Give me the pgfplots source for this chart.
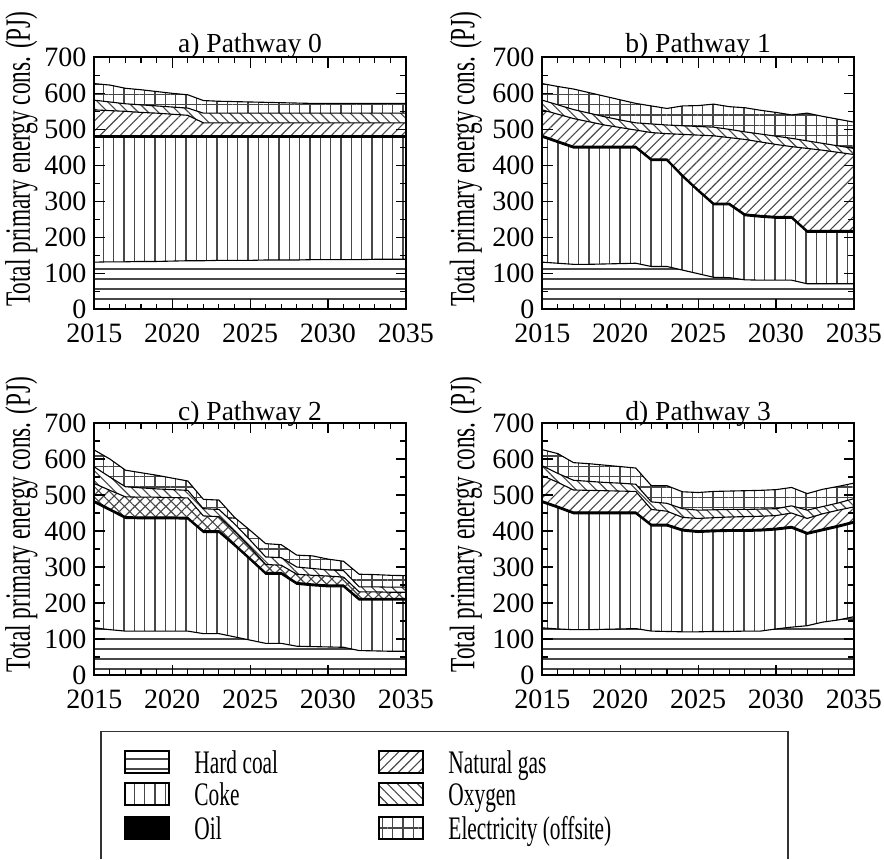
\documentclass[border=0pt]{standalone}
\usepackage{pgfplots}
\pgfplotsset{compat=1.18}
\usepackage{pgfplotstable}
\usetikzlibrary{patterns.meta}
\usepackage{graphicx}
\usepackage{fontspec}
\setmainfont{Liberation Serif}
\colorlet{pc}{black!72}

% year, cumulative tops of: hard coal, coke, oil, natural gas, oxygen, electricity (PJ)
\pgfplotstableread{
year coal coke oil gas oxy elec
2015 131 477 482 554 581 627
2016 132 477 482 552 576 623
2017 132 477 482 550 571 614
2018 133 477 482 547 568 610
2019 133 477 482 545 565 605
2020 134 477 482 542 562 600
2021 135 477 482 539 559 596
2022 135 477 482 518 545 580
2023 136 477 482 518 545 578
2024 136 477 482 518 545 577
2025 136 477 482 518 545 576
2026 137 477 482 518 545 575
2027 137 477 482 518 545 574
2028 137 477 482 518 545 573
2029 138 477 482 518 545 572
2030 138 477 482 518 545 572
2031 138 477 482 518 545 572
2032 138 477 482 518 545 572
2033 139 477 482 518 545 572
2034 139 477 482 518 545 572
2035 139 477 482 518 545 572
}\tabA
\pgfplotstableread{
year coal coke oil gas oxy elec
2015 131 478 483 554 581 627
2016 128 463 468 542 568 619
2017 125 448 453 530 555 612
2018 125 448 453 521 545 602
2019 126 448 453 512 535 592
2020 127 448 453 505 526 582
2021 128 448 453 498 518 572
2022 119 413 418 491 515 565
2023 119 413 418 488 512 558
2024 109 368 373 486 510 565
2025 99 328 333 484 508 566
2026 89 290 295 482 506 570
2027 88 290 295 477 500 563
2028 82 260 265 472 493 560
2029 81 256 261 465 487 553
2030 81 253 258 458 481 547
2031 81 253 258 452 475 540
2032 71 214 219 447 468 545
2033 71 214 219 442 461 536
2034 71 214 219 436 454 528
2035 71 214 219 430 447 520
}\tabB
\pgfplotstableread{
year coal coke oil gas oxy elec
2015 131 479 484 532 578 625
2016 126 457 462 513 550 600
2017 122 435 440 495 523 569
2018 122 434 439 494 520 562
2019 122 434 439 494 517 555
2020 122 434 439 493 515 547
2021 122 433 438 492 513 539
2022 115 396 401 442 462 488
2023 115 396 401 440 460 486
2024 106 359 364 400 420 438
2025 97 320 325 355 375 402
2026 88 280 285 307 328 365
2027 88 280 285 305 326 362
2028 80 252 257 280 300 333
2029 79 248 253 277 296 331
2030 78 245 250 275 292 322
2031 77 245 250 272 290 316
2032 68 208 213 231 245 280
2033 67 208 213 231 245 279
2034 66 208 213 230 244 277
2035 66 208 213 230 244 276
}\tabC
\pgfplotstableread{
year coal coke oil gas oxy elec
2015 131 479 484 554 581 626
2016 128 464 469 535 560 615
2017 126 448 453 514 541 590
2018 126 448 453 513 538 587
2019 127 448 453 512 535 583
2020 128 448 453 511 533 579
2021 129 448 453 510 530 575
2022 122 414 419 460 481 526
2023 121 414 419 455 477 526
2024 120 400 405 438 462 509
2025 120 396 401 435 458 507
2026 121 398 403 437 459 510
2027 121 399 404 439 460 511
2028 122 399 404 440 460 512
2029 122 400 405 441 461 513
2030 128 403 408 443 462 515
2031 133 408 413 450 470 521
2032 137 391 396 435 458 504
2033 147 401 406 448 468 516
2034 153 411 416 458 478 524
2035 162 422 427 467 490 533
}\tabD

\tikzset{
 pElec/.style={draw=black,line width=0.5pt,pattern={Hatch[angle=0,distance=4.65pt,line width=0.5pt]},pattern color=pc},
 pOxy/.style={draw=black,line width=0.5pt,pattern={Lines[angle=-45,distance=3.2pt,line width=0.5pt]},pattern color=pc},
 pGas/.style={draw=black,line width=0.5pt,pattern={Lines[angle=45,distance=3.2pt,line width=0.5pt]},pattern color=pc},
 pGasX/.style={draw=black,line width=0.5pt,pattern={Hatch[angle=45,distance=3.3pt,line width=0.5pt]},pattern color=pc},
 pCoke/.style={draw=black,line width=0.5pt,pattern={Lines[angle=90,distance=4.65pt,line width=0.5pt]},pattern color=pc},
 pCoal/.style={draw=black,line width=0.5pt,pattern={Lines[angle=0,distance=4.5pt,line width=0.5pt]},pattern color=pc},
 pOil/.style={draw=black,line width=0.5pt,fill=black},
}

\newcommand\layers[2]{%
 \addplot[draw=none,fill=white] table[x=year,y=elec]{#1}\closedcycle;
 \addplot[pElec] table[x=year,y=elec]{#1}\closedcycle;
 \addplot[draw=none,fill=white] table[x=year,y=oxy]{#1}\closedcycle;
 \addplot[pOxy] table[x=year,y=oxy]{#1}\closedcycle;
 \addplot[draw=none,fill=white] table[x=year,y=gas]{#1}\closedcycle;
 \addplot[#2] table[x=year,y=gas]{#1}\closedcycle;
 \addplot[pOil] table[x=year,y=oil]{#1}\closedcycle;
 \addplot[draw=none,fill=white] table[x=year,y=coke]{#1}\closedcycle;
 \addplot[pCoke] table[x=year,y=coke]{#1}\closedcycle;
 \addplot[draw=none,fill=white] table[x=year,y=coal]{#1}\closedcycle;
 \addplot[pCoal] table[x=year,y=coal]{#1}\closedcycle;
}

\newcommand\ylab{\scalebox{0.655}[1]{\fontsize{16}{18}\selectfont Total primary energy cons. (PJ)}}
\newcommand\legtxt[1]{\scalebox{0.65}[1]{\fontsize{14.8}{16}\selectfont #1}}

\pgfplotsset{panel/.style={
 scale only axis, width=140.2pt, height=113.4pt,
 xmin=2015,xmax=2035,ymin=0,ymax=700,
 xtick={2015,2020,2025,2030,2035}, ytick={0,100,...,700},
 minor x tick num=4, minor y tick num=1,
 tick align=inside, major tick length=4.6pt, minor tick length=2.6pt,
 axis line style={line width=0.9pt},
 tick style={black,line width=0.5pt},
 /pgf/number format/1000 sep={}, /pgf/number format/assume math mode=true,
 tick label style={font=\fontsize{12.6}{14}\selectfont},
 xticklabel style={yshift=-3.2pt},
 title style={font=\fontsize{12.4}{14}\selectfont, at={(0.5,1)}, anchor=base, yshift=-3.6pt},
 ylabel={\ylab},
 cycle list={{black}}, no markers,
 axis on top, anchor=south west,
}}

\begin{document}
\begin{tikzpicture}
\useasboundingbox (0,0) rectangle (397.8pt,-386.55pt);

\begin{axis}[panel, at={(42.44pt,-139.19pt)}, title={a) Pathway 0},
  ylabel style={at={(axis description cs:-0.234,0.596)}, anchor=center}]
\layers{\tabA}{pGas}
\end{axis}

\begin{axis}[panel, at={(244.04pt,-139.19pt)}, title={b) Pathway 1},
  ylabel style={at={(axis description cs:-0.245,0.596)}, anchor=center}]
\layers{\tabB}{pGas}
\end{axis}

\begin{axis}[panel, at={(42.44pt,-303.75pt)}, title={c) Pathway 2},
  title style={yshift=-1.2pt},
  ylabel style={at={(axis description cs:-0.234,0.596)}, anchor=center}]
\layers{\tabC}{pGasX}
\end{axis}

\begin{axis}[panel, at={(244.04pt,-303.75pt)}, title={d) Pathway 3},
  title style={yshift=-1.2pt},
  ylabel style={at={(axis description cs:-0.245,0.596)}, anchor=center}]
\layers{\tabD}{pGas}
\end{axis}

\begin{scope}[x=0.45pt,y=-0.45pt]
 \draw[line width=0.6pt, black!80] (101,859) -- (101,731.5) -- (788,731.5) -- (788,859);
 \draw[pCoal] (125,751) rectangle (169,773);
 \draw[pCoke] (125,783) rectangle (169,805);
 \draw[pOil]  (125,817) rectangle (169,839);
 \draw[pGas]  (379,751) rectangle (423,773);
 \draw[pOxy]  (379,783) rectangle (423,805);
 \draw[pElec] (379,817) rectangle (423,839);
 \node[anchor=base west, inner sep=0] at (194,773) {\legtxt{Hard coal}};
 \node[anchor=base west, inner sep=0] at (194,805) {\legtxt{Coke}};
 \node[anchor=base west, inner sep=0] at (194,839) {\legtxt{Oil}};
 \node[anchor=base west, inner sep=0] at (448,773) {\legtxt{Natural gas}};
 \node[anchor=base west, inner sep=0] at (448,805) {\legtxt{Oxygen}};
 \node[anchor=base west, inner sep=0] at (448,839) {\legtxt{Electricity (offsite)}};
\end{scope}
\end{tikzpicture}
\end{document}
